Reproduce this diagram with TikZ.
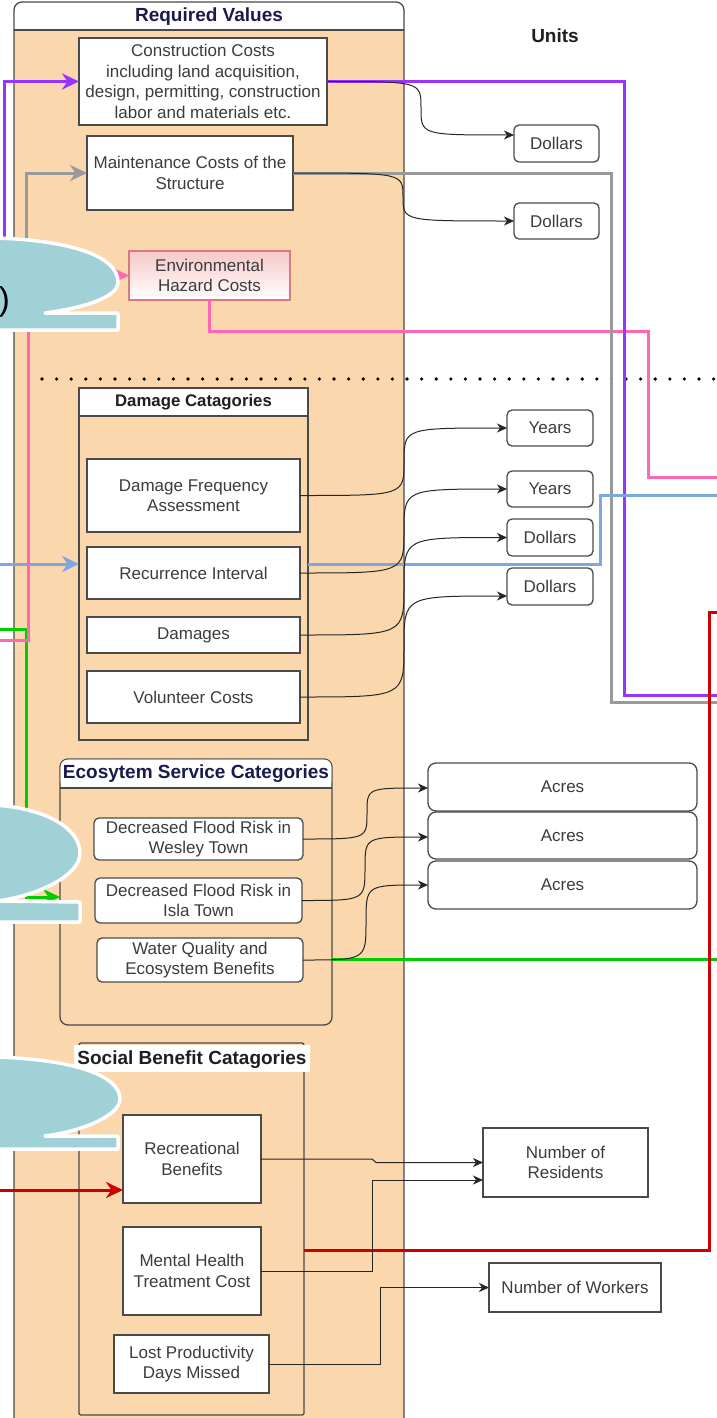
\documentclass[tikz,border=0pt]{standalone}
\usepackage{fontspec}
\setmainfont{Liberation Sans}
\usetikzlibrary{arrows.meta}

\definecolor{peach}{HTML}{FAD7AC}
\definecolor{edge}{HTML}{4A4A4A}
\definecolor{txt}{HTML}{3C3C3C}
\definecolor{navy}{HTML}{1A1A4D}
\definecolor{cpurple}{HTML}{9933FF}
\definecolor{cgray}{HTML}{999999}
\definecolor{cpink}{HTML}{FF66B3}
\definecolor{cblue}{HTML}{7EA6E0}
\definecolor{cgreen}{HTML}{00CC00}
\definecolor{cred}{HTML}{CC0000}
\definecolor{bubfill}{HTML}{9FD1D7}
\definecolor{hazpink}{HTML}{F6C8C8}
\definecolor{hazedge}{HTML}{D97A7B}

\begin{document}
\begin{tikzpicture}[x=1pt,y=-1pt,
  body/.style={font=\fontsize{17}{20.5}\selectfont, text=txt, align=center},
  box/.style={body, draw=edge, fill=white, line width=1.3pt, inner sep=2pt, outer sep=0pt},
  rbox/.style={box, rounded corners=5pt},
  cont/.style={draw=edge, fill=peach, line width=1.3pt, outer sep=0pt},
  frame/.style={draw=edge, line width=1.3pt},
  hdr/.style={font=\fontsize{19}{22}\selectfont\bfseries},
  wire/.style={line width=3pt},
  bigtip/.style={-{Stealth[length=17pt,width=16pt,inset=5.5pt]}},
  curve/.style={line width=1pt, draw=black!85, -{Stealth[length=10pt,width=9pt,inset=3pt]}},
  dotline/.style={line width=3.6pt, line cap=round, dash pattern=on 0pt off 14.6pt},
  bubble/.style={fill=bubfill, draw=white, line width=3.5pt, line join=round}
]
\useasboundingbox (0,0) rectangle (717,1418);
\clip (0,0) rectangle (717,1418);
\fill[white] (0,0) rectangle (717,1418);

% ---------- Required Values column ----------
\fill[peach, rounded corners=8pt] (14,2) rectangle (404,1440);
\fill[white, rounded corners=8pt] (14,2) rectangle (404,30);
\fill[white] (14,16) rectangle (404,30);
\draw[frame, rounded corners=8pt] (14,1440) -- (14,2) -- (404,2) -- (404,1440);
\draw[frame] (14,30) -- (404,30);
\node[hdr, text=navy] (rvt) at (209,17) {Required Values};
\node[hdr, text=black!88] (units) at (555,36) {Units};

% cost boxes
\node[box, minimum width=248pt, minimum height=87pt] (cc) at (203,81.5)
  {Construction Costs\\including land acquisition,\\design, permitting, construction\\labor and materials etc.};
\node[box, minimum width=206pt, minimum height=74pt] (mc) at (190,173)
  {Maintenance Costs of the\\Structure};
\node[box, draw=hazedge, top color=hazpink, bottom color=white, minimum width=161pt, minimum height=49pt] (eh) at (209.5,275.5)
  {Environmental\\Hazard Costs};

\node[rbox, minimum width=85pt, minimum height=37pt] (d1) at (556.5,143.5) {Dollars};
\node[rbox, minimum width=85pt, minimum height=36pt] (d2) at (556.5,221) {Dollars};

% separator
\draw[dotline] (42,379) -- (717,379);

% ---------- Damage categories ----------
\node[cont, minimum width=229pt, minimum height=352pt, anchor=north west] (dc) at (79,388) {};
\fill[white] (79.65,388.65) rectangle (307.35,416);
\draw[frame] (79,416) -- (308,416);
\node[font=\fontsize{16.8}{20}\selectfont\bfseries, text=black!88] (dct) at (193.5,402) {Damage Catagories};

\node[box, minimum width=213pt, minimum height=73pt] (dfa) at (193.5,495.5) {Damage Frequency\\Assessment};
\node[box, minimum width=213pt, minimum height=52pt] (ri) at (193.5,573) {Recurrence Interval};
\node[box, minimum width=213pt, minimum height=36pt] (dm) at (193.5,635) {Damages};
\node[box, minimum width=213pt, minimum height=52pt] (vc) at (193.5,697) {Volunteer Costs};

\node[rbox, minimum width=86pt, minimum height=36pt] (y1) at (550,428) {Years};
\node[rbox, minimum width=86pt, minimum height=36pt] (y2) at (550,489) {Years};
\node[rbox, minimum width=86pt, minimum height=37pt] (d3) at (550,537.5) {Dollars};
\node[rbox, minimum width=86pt, minimum height=37pt] (d4) at (550,586.5) {Dollars};

% ---------- Ecosystem service categories ----------
\node[cont, rounded corners=8pt, minimum width=272pt, minimum height=266pt, anchor=north west] (ec) at (60,759) {};
\fill[white, rounded corners=7pt] (60.65,759.65) rectangle (331.35,788);
\fill[white] (60.65,774) rectangle (331.35,788);
\draw[frame] (60,788) -- (332,788);
\node[hdr, text=navy] (ect) at (196,774) {Ecosytem Service Categories};

\node[rbox, minimum width=209pt, minimum height=42pt] (w1) at (198.5,839) {Decreased Flood Risk in\\Wesley Town};
\node[rbox, minimum width=207pt, minimum height=45pt] (w2) at (198.5,900.5) {Decreased Flood Risk in\\Isla Town};
\node[rbox, minimum width=206pt, minimum height=44pt] (w3) at (200,960) {Water Quality and\\Ecosystem Benefits};

\node[box, rounded corners=8pt, minimum width=269pt, minimum height=48pt] (a1) at (562.5,787) {Acres};
\node[box, rounded corners=8pt, minimum width=269pt, minimum height=47pt] (a2) at (562.5,835.5) {Acres};
\node[box, rounded corners=8pt, minimum width=269pt, minimum height=48pt] (a3) at (562.5,885) {Acres};

% ---------- Social benefit categories ----------
\node[cont, rounded corners=2pt, minimum width=225pt, minimum height=372pt, anchor=north west] (sc) at (79,1043) {};
\fill[white] (74,1045) rectangle (310,1072);
\node[hdr, text=black!88] (sct) at (192,1060) {Social Benefit Catagories};

\node[box, minimum width=138pt, minimum height=88pt] (rb) at (192,1159) {Recreational\\Benefits};
\node[box, minimum width=138pt, minimum height=88pt] (mh) at (192,1271) {Mental Health\\Treatment Cost};
\node[box, minimum width=155pt, minimum height=58pt] (lp) at (191.5,1364) {Lost Productivity\\Days Missed};

\node[box, minimum width=165pt, minimum height=69pt] (nr) at (565.5,1162.5) {Number of\\Residents};
\node[box, minimum width=172pt, minimum height=49pt] (nw) at (575,1287.5) {Number of Workers};

% ---------- free ends of the colour links ----------
\coordinate (pIn) at (-10,265);   \coordinate (pOut) at (730,695);
\coordinate (gyIn) at (-10,270);  \coordinate (gyOut) at (730,702);
\coordinate (pkIn) at (-10,640);  \coordinate (pkOut) at (730,477);
\coordinate (bIn) at (-10,564);   \coordinate (bOut) at (730,495);
\coordinate (gIn) at (-10,629);   \coordinate (gArr) at (0,897);
\coordinate (gOut) at (730,959);
\coordinate (rIn) at (-10,1190);  \coordinate (rRow) at (0,1250);
\coordinate (rOut) at (730,612);

% colour links
\draw[wire, cblue, bigtip] (bIn) -- (dc.west |- bIn);
\draw[wire, cgreen, bigtip] (gIn) -- (26,629) -- (26,897) -- (ec.west |- gArr);
\draw[wire, cpink, bigtip] (pkIn) -- (28,640) -- (28,275.5) -- (eh.west);
\draw[wire, cpink] (eh.south) -- (209.5,331) -- (648,331) -- (648,477) -- (pkOut);
\draw[wire, cgray, bigtip] (gyIn) -- (26,270) -- (26,173) -- (mc.west);
\draw[wire, cgray] (mc.east) -- (611,173) -- (611,702) -- (gyOut);
\draw[wire, cpurple, bigtip] (pIn) -- (4,265) -- (4,81.5) -- (cc.west);
\draw[wire, cpurple] (cc.east) -- (624,81.5) -- (624,695) -- (pOut);
\draw[wire, cblue] (dc.east |- bIn) -- (600,564) -- (600,495) -- (bOut);
\draw[wire, cgreen] (ec.east |- gOut) -- (gOut);
\draw[wire, cred, bigtip] (rIn) -- (rb.west |- rIn);
\draw[wire, cred] (sc.east |- rRow) -- (709,1250) -- (709,612) -- (rOut);

% unit links
\draw[curve] (cc.east) .. controls (421,81.5) .. (421,108) .. controls (421,135) .. ([yshift=8.5pt]d1.west);
\draw[curve] (mc.east) .. controls (403,173) .. (403,197) .. controls (403,221) .. (d2.west);
\draw[curve] (dfa.east) .. controls (404,495.5) .. (404,462) .. controls (404,428) .. (y1.west);
\draw[curve] (ri.east) .. controls (404,573) .. (404,531) .. controls (404,489) .. (y2.west);
\draw[curve] (dm.east) .. controls (404,635) .. (404,586) .. controls (404,537.5) .. (d3.west);
\draw[curve] (vc.east) .. controls (404,697) .. (404,646.5) .. controls (404,596) .. ([yshift=-9.5pt]d4.west);
\draw[curve] (w1.east) .. controls (367,839) .. (367,813) .. controls (367,788) .. ([yshift=-1pt]a1.west);
\draw[curve] (w2.east) .. controls (365,900.5) .. (365,868) .. controls (365,837) .. ([yshift=-1.5pt]a2.west);
\draw[curve] (w3.east) .. controls (366,960) .. (366,922) .. controls (366,885) .. (a3.west);
\draw[curve] (rb.east) -- (372,1159) -- (376,1162.5) -- (nr.west);
\draw[curve] (mh.east) -- (372,1271) -- (372,1180) -- ([yshift=-17.5pt]nr.west);
\draw[curve] (lp.east) -- (380,1364) -- (380,1287.5) -- (nw.west);

% ---------- callouts at the left edge ----------
\path[bubble] (-6,238) .. controls (70,240) and (118,256) .. (118,282)
  .. controls (118,298) and (82,308) .. (45,313) -- (118,313) -- (118,330) -- (-6,330) -- cycle;
\node[font=\fontsize{33}{40}\selectfont, text=black, anchor=base east, inner sep=0pt] (c1b) at (10,310) {)};

\path[bubble] (-6,805) .. controls (45,808) and (80,828) .. (80,853)
  .. controls (80,875) and (40,895) .. (-2,901) -- (80,902) -- (80,922) -- (-6,922) -- cycle;

\path[bubble] (-6,1057) .. controls (72,1059) and (120,1075) .. (120,1099)
  .. controls (120,1115) and (84,1131) .. (45,1136) -- (118,1136) -- (118,1149) -- (-6,1149) -- cycle;
\end{tikzpicture}
\end{document}
